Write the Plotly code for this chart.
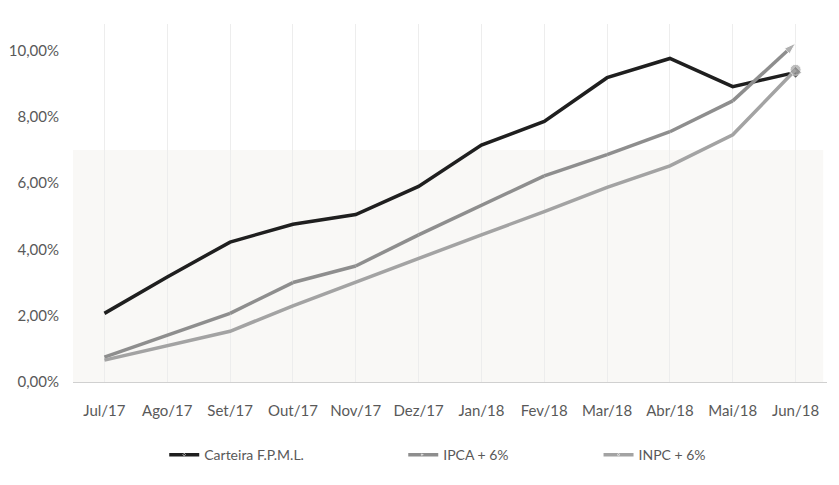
import plotly.graph_objects as go

# Monthly accumulated returns (%), Jul/17 - Jun/18
months = ["Jul/17", "Ago/17", "Set/17", "Out/17", "Nov/17", "Dez/17",
          "Jan/18", "Fev/18", "Mar/18", "Abr/18", "Mai/18", "Jun/18"]
carteira = [2.07, 3.17, 4.22, 4.76, 5.05, 5.90, 7.15, 7.86, 9.18, 9.76, 8.91, 9.34]
ipca_6 = [0.75, 1.42, 2.07, 3.00, 3.50, 4.44, 5.32, 6.22, 6.86, 7.55, 8.48, 10.22]
inpc_6 = [0.66, 1.10, 1.53, 2.30, 3.02, 3.74, 4.44, 5.14, 5.87, 6.52, 7.46, 9.42]
y_ticks = [0, 2, 4, 6, 8, 10]
y_labels = ["0,00%", "2,00%", "4,00%", "6,00%", "8,00%", "10,00%"]

FONT = "Lato, Open Sans, sans-serif"
TEXT_COLOR = "#595959"


def end_sizes(n, size):
    # marker only on the last point (Excel line-end style)
    return [0] * (n - 1) + [size]


fig = go.Figure()

fig.add_trace(go.Scatter(
    x=months, y=carteira, name="Carteira F.P.M.L.",
    mode="lines+markers",
    line=dict(color="#1f1f1f", width=3.5),
    marker=dict(symbol="diamond", size=end_sizes(len(months), 9), color="#1f1f1f"),
    legend="legend", showlegend=True,
))
fig.add_trace(go.Scatter(
    x=months, y=ipca_6, name="IPCA + 6%",
    mode="lines+markers",
    line=dict(color="#8e8e8e", width=3.5),
    marker=dict(symbol="arrow", angleref="previous",
                size=end_sizes(len(months), 12), color="#8e8e8e"),
    legend="legend2", showlegend=True,
))
fig.add_trace(go.Scatter(
    x=months, y=inpc_6, name="INPC + 6%",
    mode="lines+markers",
    line=dict(color="#a3a3a3", width=3.5),
    marker=dict(symbol="circle", size=end_sizes(len(months), 11), color="#a3a3a3"),
    legend="legend3", showlegend=True,
))

# faint scanned-paper tint in the lower part of the plot
fig.add_shape(type="rect", xref="paper", yref="y", x0=0, x1=0.995, y0=0, y1=7,
              fillcolor="#f9f8f6", line_width=0, layer="below")

legend_common = dict(orientation="h", yanchor="middle", y=-0.204, xanchor="left",
                     bgcolor="rgba(0,0,0,0)",
                     font=dict(family=FONT, size=14, color=TEXT_COLOR))

fig.update_layout(
    width=839, height=485,
    margin=dict(l=65, r=20, t=16, b=111),
    paper_bgcolor="white", plot_bgcolor="white",
    showlegend=True,
    font=dict(family=FONT, size=14, color=TEXT_COLOR),
    legend=dict(x=0.121, **legend_common),
    legend2=dict(x=0.438, **legend_common),
    legend3=dict(x=0.697, **legend_common),
    xaxis=dict(
        showgrid=True, gridcolor="#ededed", gridwidth=1,
        showline=True, linecolor="#d0d0d0", linewidth=1,
        ticks="outside", ticklen=15, tickcolor="rgba(0,0,0,0)",
        tickfont=dict(size=15, color=TEXT_COLOR),
        range=[-0.5, 11.5], automargin=False,
    ),
    yaxis=dict(
        range=[0, 10.8], tickvals=y_ticks, ticktext=y_labels,
        showgrid=False, zeroline=False, showline=False,
        ticks="outside", ticklen=10, tickcolor="rgba(0,0,0,0)",
        tickfont=dict(size=15, color=TEXT_COLOR), automargin=False,
    ),
)

fig.write_html("out.html")
